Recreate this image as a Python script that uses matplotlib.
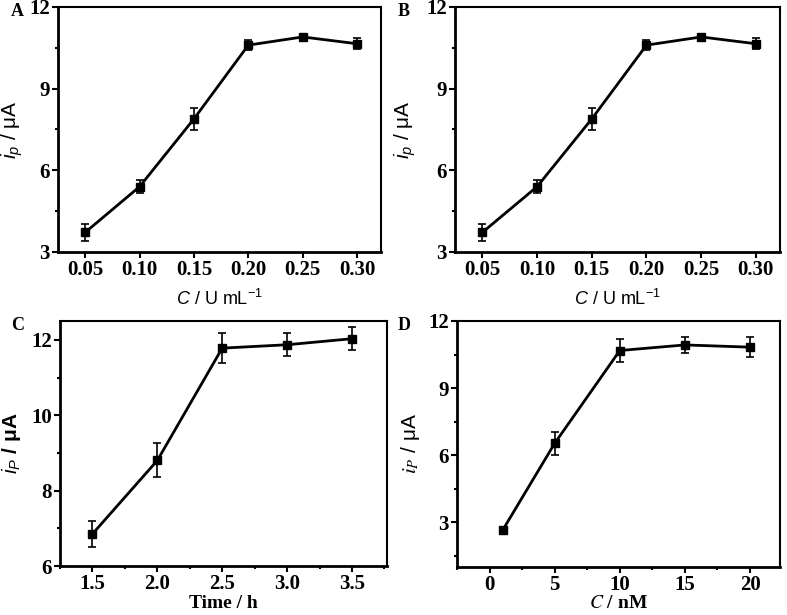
import matplotlib
matplotlib.use('Agg')
import matplotlib.pyplot as plt
from matplotlib.ticker import MultipleLocator, AutoMinorLocator, NullLocator

plt.rcParams['mathtext.fontset'] = 'custom'
plt.rcParams['mathtext.rm'] = 'Liberation Sans'
plt.rcParams['mathtext.it'] = 'Liberation Sans:italic'
plt.rcParams['mathtext.bf'] = 'Liberation Sans:bold'

# panel A / B : enzyme concentration
conc_u = [0.05, 0.10, 0.15, 0.20, 0.25, 0.30]
ip_a = [3.72, 5.40, 7.89, 10.60, 10.90, 10.65]
err_a = [0.30, 0.25, 0.40, 0.18, 0.12, 0.20]
ip_b = [3.72, 5.40, 7.89, 10.60, 10.90, 10.65]
err_b = [0.30, 0.25, 0.40, 0.18, 0.12, 0.20]

# panel C : time
time_h = [1.5, 2.0, 2.5, 3.0, 3.5]
ip_c = [6.85, 8.80, 11.78, 11.87, 12.03]
err_c = [0.35, 0.45, 0.40, 0.30, 0.30]

# panel D : concentration nM
conc_nm = [1, 5, 10, 15, 20]
ip_d = [2.64, 6.53, 10.68, 10.93, 10.83]
err_d = [0.05, 0.52, 0.50, 0.35, 0.45]

fig = plt.figure(figsize=(7.87, 6.15), dpi=100)
W, H = 787, 615

def mkax(l, r, t, b):
    return fig.add_axes([l / W, 1 - b / H, (r - l) / W, (b - t) / H])

axA = mkax(58, 381, 7, 252)
axB = mkax(455, 780, 7, 252)
axC = mkax(60, 387, 321, 566)
axD = mkax(457, 780, 321, 567)

def style(ax, x, y, e, xlim, ylim, xmaj, ymaj, fmt, xminor=True):
    ax.errorbar(x, y, yerr=e, color='black', lw=2, marker='s', ms=6,
                capsize=3, elinewidth=1.2, capthick=1.2)
    ax.set_xlim(*xlim)
    ax.set_ylim(*ylim)
    ax.xaxis.set_major_locator(MultipleLocator(xmaj))
    ax.yaxis.set_major_locator(MultipleLocator(ymaj))
    if xminor:
        ax.xaxis.set_minor_locator(AutoMinorLocator(2))
    else:
        ax.xaxis.set_minor_locator(NullLocator())
    ax.yaxis.set_minor_locator(AutoMinorLocator(2))
    ax.tick_params(which='major', direction='out', length=4, width=1.5,
                   top=False, right=False, pad=2)
    ax.tick_params(which='minor', direction='out', length=2.5, width=1.5,
                   top=False, right=False)
    if fmt:
        ax.xaxis.set_major_formatter(plt.FuncFormatter(lambda v, p: fmt.format(v)))
    for lab in ax.get_xticklabels() + ax.get_yticklabels():
        lab.set_fontfamily('Liberation Serif')
        lab.set_fontweight('bold')
        lab.set_fontsize(15)
    for s in ['left', 'bottom']:
        ax.spines[s].set_linewidth(2)
    for s in ['top', 'right']:
        ax.spines[s].set_linewidth(1.5)

style(axA, conc_u, ip_a, err_a, (0.025, 0.322), (3, 12), 0.05, 3, '{:.2f}', False)
style(axB, conc_u, ip_b, err_b, (0.025, 0.322), (3, 12), 0.05, 3, '{:.2f}', False)
style(axC, time_h, ip_c, err_c, (1.25, 3.77), (6, 12.5), 0.5, 2, '{:.1f}')
style(axD, conc_nm, ip_d, err_d, (-2.5, 22.3), (1, 12), 5, 3, None)

for ax, yx in ((axA, -0.102), (axB, -0.114)):
    ax.set_xlabel('$C$ / U mL$^{-1}$', family='Liberation Sans', size=13)
    ax.xaxis.set_label_coords(0.5, -0.152)
    ax.set_ylabel(r'$\mathit{i}_{p}$ / μA', family='Liberation Sans', size=15)
    ax.yaxis.set_label_coords(yx, 0.5)

axC.set_xlabel('Time / h', family='Liberation Serif', weight='bold', size=14)
axC.xaxis.set_label_coords(0.5, -0.12)
axC.set_ylabel(r'$\mathit{i}_{P}$ / μA', family='Liberation Sans', weight='bold', size=15)
axC.yaxis.set_label_coords(-0.113, 0.5)

axD.set_xlabel('$C$ / nM', family='Liberation Serif', weight='bold', size=14,
               math_fontfamily='stix')
axD.xaxis.set_label_coords(0.5, -0.112)
axD.set_ylabel(r'$i_{P}$ / μA', family='Liberation Sans', size=15,
               math_fontfamily='stix')
axD.yaxis.set_label_coords(-0.108, 0.5)

for letter, (x, y) in zip('ABCD', [(11, 12), (398, 12), (11, 326), (398, 326)]):
    fig.text(x / W, 1 - y / H, letter, family='Liberation Serif', weight='bold',
             size=13, va='center', ha='left')

fig.savefig('out.png', dpi=100)
